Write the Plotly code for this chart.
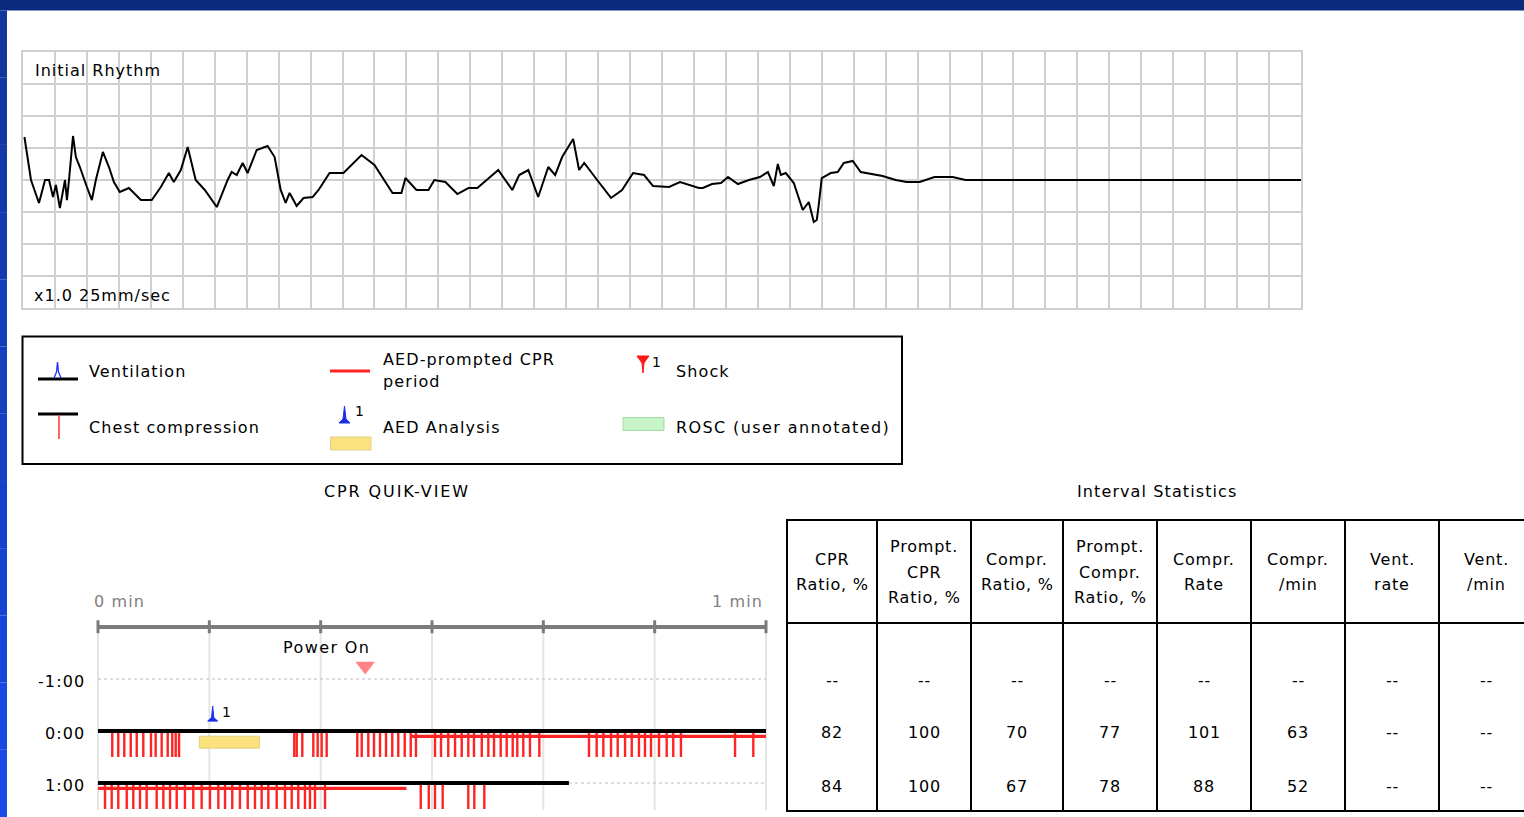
import plotly.graph_objects as go

W, H = 1524, 817

# ---------------- data ----------------
# Initial rhythm ECG (time in s at 25 mm/s, amplitude in mV)
ecg_time_s = [0.009, 0.05, 0.1, 0.138, 0.163, 0.188, 0.206, 0.231, 0.263, 0.275,
              0.288, 0.313, 0.331, 0.356, 0.4, 0.431, 0.456, 0.5, 0.538, 0.569,
              0.606, 0.663, 0.738, 0.806, 0.863, 0.913, 0.944, 0.988, 1.031, 1.081,
              1.138, 1.213, 1.281, 1.306, 1.338, 1.375, 1.406, 1.463, 1.531, 1.575,
              1.613, 1.644, 1.669, 1.713, 1.756, 1.813, 1.85, 1.919, 2.006, 2.119,
              2.2, 2.313, 2.369, 2.394, 2.463, 2.538, 2.575, 2.644, 2.719, 2.788,
              2.844, 2.9, 2.975, 3.063, 3.106, 3.163, 3.225, 3.288, 3.331, 3.375,
              3.444, 3.481, 3.513, 3.594, 3.681, 3.75, 3.819, 3.888, 3.944, 4.044,
              4.113, 4.231, 4.256, 4.313, 4.369, 4.413, 4.475, 4.544, 4.613, 4.663,
              4.7, 4.725, 4.744, 4.775, 4.825, 4.881, 4.919, 4.95, 4.969, 4.981,
              5.0, 5.056, 5.1, 5.138, 5.194, 5.244, 5.313, 5.381, 5.463, 5.531,
              5.613, 5.706, 5.819, 5.9, 8.0]
ecg_mv = [0.672, 0, -0.359, 0, 0, -0.266, -0.078, -0.438, 0, -0.313,
          0, 0.688, 0.359, 0.203, -0.109, -0.313, 0, 0.438, 0.203, -0.031,
          -0.188, -0.125, -0.313, -0.313, -0.109, 0.109, -0.031, 0.156, 0.516, 0,
          -0.156, -0.422, 0, 0.125, 0.078, 0.266, 0.109, 0.469, 0.531, 0.359,
          -0.156, -0.359, -0.203, -0.406, -0.281, -0.266, -0.156, 0.109, 0.109, 0.391,
          0.234, -0.203, -0.203, 0.031, -0.156, -0.156, 0, -0.031, -0.219, -0.125,
          -0.125, 0, 0.156, -0.156, 0.078, 0.156, -0.266, 0.203, 0.078, 0.359,
          0.641, 0.156, 0.266, 0, -0.281, -0.156, 0.109, 0.078, -0.094, -0.109,
          -0.031, -0.125, -0.125, -0.063, -0.047, 0.047, -0.063, 0, 0.047, 0.125,
          -0.094, 0.25, 0.078, 0.109, -0.047, -0.469, -0.344, -0.656, -0.625, -0.391,
          0.031, 0.109, 0.125, 0.266, 0.297, 0.125, 0.094, 0.063, 0, -0.031,
          -0.031, 0.047, 0.047, 0, 0]

# CPR Quik-View (seconds within each minute row)
qv_rows = [-1, 0, 1]
qv_row_labels = ["-1:00", "0:00", "1:00"]
qv_time_ticks_s = [0, 10, 20, 30, 40, 50, 60]
compressions_row0_s = [1.28, 1.82, 2.36, 2.94, 3.48, 4.07, 4.76, 5.18, 5.72, 6.26, 6.67, 6.98, 7.28,
                       17.63, 17.85, 18.35, 19.34, 19.73, 20.09, 20.54,
                       23.29, 23.69, 24.28, 24.79, 25.33, 25.87, 26.43, 26.97, 27.55, 28.09, 28.56,
                       30.27, 30.81, 31.46, 32.07, 32.67, 33.26, 33.77, 34.47, 35.06, 35.57, 36.17,
                       36.71, 37.25, 37.66, 38.2, 38.8, 39.64,
                       44.1, 44.79, 45.39, 46.08, 46.68, 47.34, 47.94, 48.59, 49.13, 49.67, 50.39,
                       51.08, 51.67, 52.36, 57.22, 58.86]
compressions_row1_s = [0.63, 1.23, 1.82, 2.58, 3.17, 3.77, 4.37, 5.27, 5.87, 6.47, 7.07, 7.81,
                       8.56, 9.31, 10.06, 10.81, 11.41, 12.06, 12.75, 13.45, 14.1, 14.7, 15.3,
                       16.05, 16.8, 17.4, 17.99, 18.59, 19.04, 19.49, 20.39,
                       28.99, 29.71, 30.27, 30.96, 33.26, 33.8, 34.7]
prompted_cpr_row0_s = [28.1, 60.0]
prompted_cpr_row1_s = [0.0, 27.7]
record_end_row1_s = 42.3
aed_analysis_s = [9.1, 14.5]
aed_analysis_marker_s = 10.3
power_on_s = 24.0

# Interval statistics
stat_headers = [["CPR", "Ratio, %"], ["Prompt.", "CPR", "Ratio, %"], ["Compr.", "Ratio, %"],
                ["Prompt.", "Compr.", "Ratio, %"], ["Compr.", "Rate"], ["Compr.", "/min"],
                ["Vent.", "rate"], ["Vent.", "/min"]]
stat_row_m1 = ["--", "--", "--", "--", "--", "--", "--", "--"]
stat_row_0 = ["82", "100", "70", "77", "101", "63", "--", "--"]
stat_row_1 = ["84", "100", "67", "78", "88", "52", "--", "--"]

# ---------------- helpers ----------------
FONT = "DejaVu Sans"
FS = 16
SPACING = 1.1
RED = "#ff2424"


def fx(p):
    return p / W


def fy(p):
    return 1 - p / H


def spaced(s, sp=SPACING):
    return f'<span style="letter-spacing:{sp}px">{s}</span>'


shapes = []
annotations = []


def txt(x, y, s, anchor="left", size=FS, color="black", sp=SPACING):
    annotations.append(dict(x=fx(x), y=fy(y), xref="paper", yref="paper", text=spaced(s, sp),
                            showarrow=False, xanchor=anchor, yanchor="middle",
                            font=dict(family=FONT, size=size, color=color)))


def pline(x0, y0, x1, y1, color, width, dash=None):
    ln = dict(color=color, width=width)
    if dash:
        ln["dash"] = dash
    shapes.append(dict(type="line", xref="paper", yref="paper", x0=fx(x0), y0=fy(y0),
                       x1=fx(x1), y1=fy(y1), line=ln))


def prect(x0, y0, x1, y1, fill, line_color=None, width=0):
    shapes.append(dict(type="rect", xref="paper", yref="paper", x0=fx(x0), y0=fy(y0),
                       x1=fx(x1), y1=fy(y1), fillcolor=fill, layer="below",
                       line=dict(color=line_color or fill, width=width)))


def ppath(pts, fill=None, color="black", width=1, closed=True):
    d = "M " + " L ".join(f"{fx(a):.5f},{fy(b):.5f}" for a, b in pts)
    if closed:
        d += " Z"
    shapes.append(dict(type="path", xref="paper", yref="paper", path=d,
                       fillcolor=fill if fill else "rgba(0,0,0,0)",
                       line=dict(color=color, width=width)))


fig = go.Figure()

# ---------------- page frame ----------------
prect(0, 0, W, 10.5, "#0b2a7e")
n_seg = 12
for i in range(n_seg):
    f = i / (n_seg - 1)
    r = int(0x12 + (0x18 - 0x12) * f)
    g = int(0x36 + (0x4a - 0x36) * f)
    b = int(0x9a + (0xe8 - 0x9a) * f)
    prect(0, 10.5 + i * (H - 10.5) / n_seg, 7, 10.5 + (i + 1) * (H - 10.5) / n_seg,
          f"#{r:02x}{g:02x}{b:02x}")

# ---------------- ECG strip ----------------
fig.add_trace(go.Scatter(x=ecg_time_s, y=ecg_mv, mode="lines",
                         line=dict(color="black", width=2), xaxis="x", yaxis="y",
                         hoverinfo="skip", showlegend=False))
txt(33, 70, "Initial Rhythm", size=16, sp=1.0)
txt(32, 295, "x1.0 25mm/sec", size=16, sp=1.0)

# ---------------- legend box ----------------
prect(22.5, 336.5, 902, 464, "rgba(0,0,0,0)", "black", 2)
# Ventilation
pline(38, 379, 78, 379, "black", 3)
ppath([(54, 378), (56.5, 372), (57.5, 362), (58.5, 372), (61, 378)], None, "#2030ff", 1.3, closed=False)
txt(87, 371, "Ventilation")
# Chest compression
pline(38, 414, 78, 414, "black", 3)
pline(59, 415, 59, 439, RED, 1.4)
txt(87, 427, "Chest compression")
# AED-prompted CPR period
pline(330, 371, 370, 371, RED, 3)
txt(381, 359, "AED-prompted CPR")
txt(381, 381, "period")
# AED analysis
ppath([(339, 423), (343, 419), (344.5, 406), (346, 419), (350, 423)], "#1a30e8", "#1a30e8", 1)
txt(353, 411, "1", size=14)
prect(330.5, 437, 371, 450, "#fbe27c", "#e2cf8a", 1)
txt(381, 427, "AED Analysis")
# Shock
ppath([(637, 356), (649, 356), (644, 363), (643, 373), (642, 363)], "#ff1818", "#ff1818", 1)
txt(650, 362, "1", size=14)
txt(674, 371, "Shock")
# ROSC
prect(623, 417.5, 664, 430.5, "#c8f2c8", "#a9d9a9", 1)
txt(674, 427, "ROSC (user annotated)", sp=1.4)

# ---------------- section titles ----------------
txt(397, 491, "CPR QUIK-VIEW", anchor="center", sp=1.9)
txt(1157, 491, "Interval Statistics", anchor="center")

# ---------------- CPR Quik-View ----------------
QV_X0, QV_PXS = 98.0, 668.0 / 60.0
QV_Y0, QV_PXR = 731.0, 52.0
qx_range = [-1.0, 61.0]
qy_range = [1.6, -2.3]
qv_dom_x = [fx(QV_X0 + qx_range[0] * QV_PXS), fx(QV_X0 + qx_range[1] * QV_PXS)]
qv_dom_y = [fy(QV_Y0 + qy_range[0] * QV_PXR), fy(QV_Y0 + qy_range[1] * QV_PXR)]
AXIS_ROW = -2.0

for t in qv_time_ticks_s:
    shapes.append(dict(type="line", xref="x2", yref="y2", x0=t, x1=t, y0=AXIS_ROW, y1=1.52,
                       line=dict(color="#e4e4e4", width=2), layer="below"))
# dotted reference lines
shapes.append(dict(type="line", xref="x2", yref="y2", x0=0, x1=60, y0=-1, y1=-1,
                   line=dict(color="#bdbdbd", width=1, dash="dot"), layer="below"))
shapes.append(dict(type="line", xref="x2", yref="y2", x0=record_end_row1_s, x1=60, y0=1, y1=1,
                   line=dict(color="#bdbdbd", width=1, dash="dot"), layer="below"))
# top time axis
shapes.append(dict(type="line", xref="x2", yref="y2", x0=0, x1=60, y0=AXIS_ROW, y1=AXIS_ROW,
                   line=dict(color="#7c7c7c", width=4)))
for t in qv_time_ticks_s:
    shapes.append(dict(type="line", xref="x2", yref="y2", x0=t, x1=t, y0=AXIS_ROW - 0.13,
                       y1=AXIS_ROW + 0.12, line=dict(color="#7c7c7c", width=3)))
txt(92, 601, "0 min", color="#808080", size=16)
txt(765, 601, "1 min", anchor="right", color="#808080", size=16)

for r, lab in zip(qv_rows, qv_row_labels):
    txt(87, QV_Y0 + r * QV_PXR + 2, lab, anchor="right")

# AED analysis period
shapes.append(dict(type="rect", xref="x2", yref="y2", x0=aed_analysis_s[0], x1=aed_analysis_s[1],
                   y0=0.1, y1=0.33, fillcolor="#fbe27c", line=dict(color="#e2cf8a", width=1)))
m = aed_analysis_marker_s
shapes.append(dict(type="path", xref="x2", yref="y2",
                   path=f"M {m-0.45},-0.19 L {m-0.1},-0.26 L {m},-0.48 L {m+0.1},-0.26 L {m+0.45},-0.19 Z",
                   fillcolor="#1a30e8", line=dict(color="#1a30e8", width=1)))
annotations.append(dict(x=m, y=-0.36, xref="x2", yref="y2", text="1", showarrow=False,
                        xanchor="left", xshift=7, yanchor="middle",
                        font=dict(family=FONT, size=14, color="black")))

# data rows: black baseline, prompted CPR line, compressions
row_end = [60.0, record_end_row1_s]
for r, end in zip([0, 1], row_end):
    fig.add_trace(go.Scatter(x=[0, end], y=[r, r], mode="lines", line=dict(color="black", width=4),
                             xaxis="x2", yaxis="y2", hoverinfo="skip", showlegend=False))
for r, seg in zip([0, 1], [prompted_cpr_row0_s, prompted_cpr_row1_s]):
    fig.add_trace(go.Scatter(x=seg, y=[r + 0.105, r + 0.105], mode="lines",
                             line=dict(color=RED, width=3.2), xaxis="x2", yaxis="y2",
                             hoverinfo="skip", showlegend=False))
for r, times in zip([0, 1], [compressions_row0_s, compressions_row1_s]):
    xs, ys = [], []
    for t in times:
        xs += [t, t, None]
        ys += [r + 0.04, r + 0.5, None]
    fig.add_trace(go.Scatter(x=xs, y=ys, mode="lines", line=dict(color=RED, width=2.4),
                             xaxis="x2", yaxis="y2", hoverinfo="skip", showlegend=False,
                             connectgaps=False))

# Power On marker
fig.add_trace(go.Scatter(x=[power_on_s], y=[-1.25], mode="markers",
                         marker=dict(symbol="triangle-down", size=17, color="#ff8484"),
                         xaxis="x2", yaxis="y2", hoverinfo="skip", showlegend=False))
annotations.append(dict(x=power_on_s, y=-1.615, xref="x2", yref="y2", text=spaced("Power On", 1.4),
                        showarrow=False, xanchor="right", xshift=7, yanchor="middle",
                        font=dict(family=FONT, size=FS, color="black")))

# ---------------- Interval statistics table ----------------
col_edges = [787, 877, 971, 1063, 1157, 1251, 1345, 1439, 1533]
T_TOP, T_HEAD, T_BOT = 520, 623, 811
for xe in col_edges:
    pline(xe, T_TOP, xe, T_BOT, "black", 2)
for ye in [T_TOP, T_HEAD, T_BOT]:
    pline(col_edges[0] - 1, ye, col_edges[-1], ye, "black", 2)
LINE_STEP = 25.5
for i, head in enumerate(stat_headers):
    cx = (col_edges[i] + col_edges[i + 1]) / 2
    n = len(head)
    for j, line in enumerate(head):
        txt(cx, 572 + (j - (n - 1) / 2) * LINE_STEP, line, anchor="center", sp=0.8)
for r, vals in zip(qv_rows, [stat_row_m1, stat_row_0, stat_row_1]):
    for i, v in enumerate(vals):
        cx = (col_edges[i] + col_edges[i + 1]) / 2
        txt(cx, QV_Y0 + r * QV_PXR + (1 if r != 1 else 3), v, anchor="center", sp=0.8)

# ---------------- layout ----------------
grid = "#cfcfcf"
fig.update_layout(
    width=W, height=H, margin=dict(l=0, r=0, t=0, b=0),
    paper_bgcolor="white", plot_bgcolor="rgba(0,0,0,0)",
    showlegend=False, shapes=shapes, annotations=annotations,
    xaxis=dict(domain=[fx(23), fx(1301)], range=[0, 8], dtick=0.2, tick0=0,
               showgrid=True, gridcolor=grid, gridwidth=2, zeroline=False,
               showticklabels=False, ticks="", showline=True, mirror=True,
               linecolor=grid, linewidth=2, fixedrange=True),
    yaxis=dict(domain=[fy(308), fy(52)], range=[-2, 2], dtick=0.5, tick0=0,
               showgrid=True, gridcolor=grid, gridwidth=2, zeroline=False,
               showticklabels=False, ticks="", showline=True, mirror=True,
               linecolor=grid, linewidth=2, fixedrange=True),
    xaxis2=dict(domain=qv_dom_x, range=qx_range, anchor="y2", visible=False, fixedrange=True),
    yaxis2=dict(domain=qv_dom_y, range=qy_range, anchor="x2", visible=False, fixedrange=True),
)

fig.write_html("out.html", config={"displayModeBar": False},
               post_script="document.body.style.margin='0';document.body.style.overflow='hidden';")
